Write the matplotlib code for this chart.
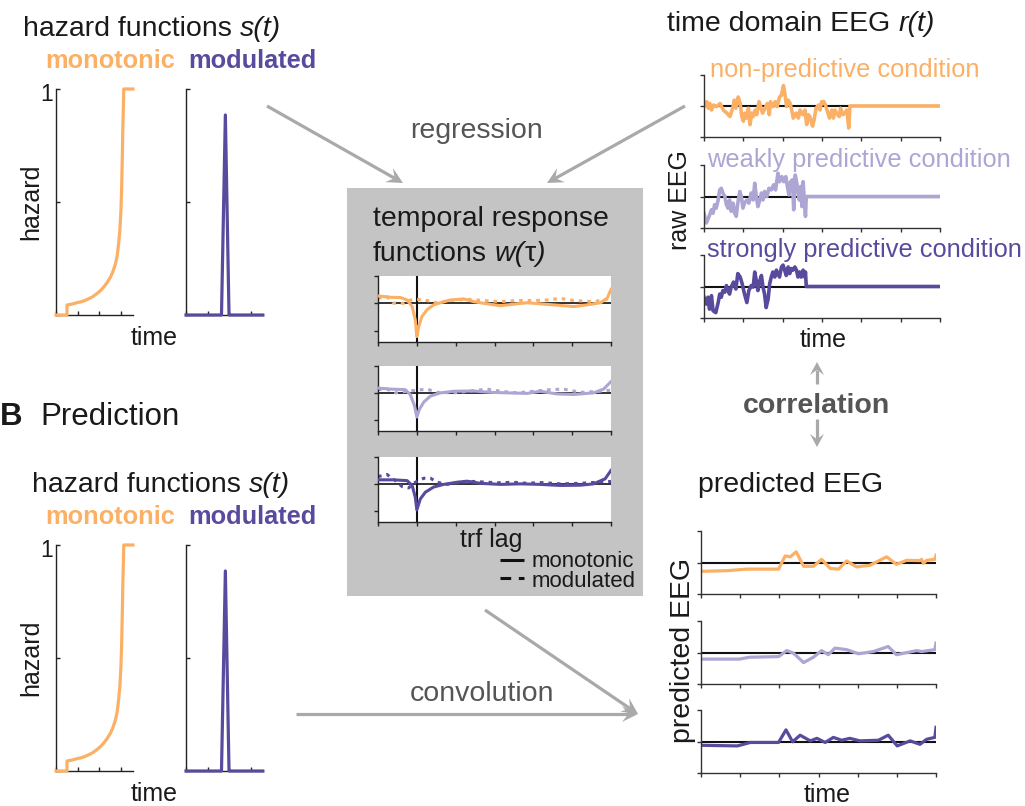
import numpy as np
import matplotlib
matplotlib.use('Agg')
import matplotlib.pyplot as plt
from matplotlib.patches import Rectangle, Polygon

plt.rcParams['font.family'] = ['Liberation Sans', 'DejaVu Sans']

# ---------------- data ----------------
# hazard functions
haz_mono_t = [0, 0.51, 0.51, 0.77, 1.00, 1.23, 1.46, 1.69, 1.92, 2.08, 2.23, 2.38, 2.54, 2.66, 2.77, 2.85,
              2.92, 2.97, 3.02, 3.05, 3.08, 3.11, 3.14, 3.15, 3.58]
haz_mono = [0, 0, 0.044, 0.049, 0.055, 0.060, 0.069, 0.080, 0.096, 0.109, 0.125, 0.144, 0.169, 0.196, 0.228, 0.265,
            0.324, 0.376, 0.465, 0.553, 0.686, 0.833, 0.951, 1.0, 1.0]
haz_mod_t = [0, 1.65, 1.83, 2.0, 3.57]
haz_mod = [0, 0, 0.885, 0, 0]

# temporal response functions (lag, weight)
trf_mono_lag = [[-1.00, -0.68, -0.42, -0.25, -0.12, -0.04, 0.00, 0.05, 0.13, 0.26, 0.43, 0.61, 0.86, 1.21, 1.46, 1.81, 2.15, 2.58, 2.84, 3.18, 3.61, 4.04, 4.38, 4.73, 4.90, 5.00],
                [-1.00, -0.68, -0.30, -0.17, -0.06, 0.00, 0.07, 0.18, 0.35, 0.61, 0.95, 1.46, 1.89, 2.32, 2.84, 3.18, 3.61, 4.04, 4.55, 4.81, 5.00],
                [-1.00, -0.60, -0.25, -0.12, -0.04, 0.00, 0.09, 0.22, 0.43, 0.69, 1.03, 1.29, 1.64, 2.15, 2.67, 3.18, 3.70, 4.21, 4.55, 4.85, 5.00]]
trf_mono = [[0.27, 0.22, 0.21, 0.12, -0.12, -0.61, -1.22, -0.85, -0.49, -0.24, -0.06, 0.02, 0.12, 0.16, 0.06, -0.02, -0.09, -0.02, 0.02, -0.02, -0.07, -0.12, -0.06, 0.02, 0.18, 0.51],
            [0.18, 0.14, 0.12, -0.06, -0.48, -0.90, -0.60, -0.34, -0.12, 0.00, 0.06, 0.07, 0.02, 0.00, -0.02, 0.06, -0.04, -0.06, 0.00, 0.14, 0.42],
            [0.15, 0.15, 0.12, -0.06, -0.50, -0.97, -0.56, -0.31, -0.12, -0.02, 0.06, 0.10, 0.02, -0.02, 0.00, -0.02, -0.06, -0.05, 0.00, 0.19, 0.50]]
trf_mod_lag = [[-1.00, -0.77, -0.60, -0.34, -0.17, 0.00, 0.26, 0.52, 0.86, 1.29, 1.72, 2.15, 2.58, 3.01, 3.35, 3.70, 4.04, 4.55, 4.90, 5.00],
               [-1.00, -0.77, -0.55, -0.30, 0.00, 0.26, 0.52, 0.95, 1.46, 1.81, 2.15, 2.58, 3.01, 3.44, 3.78, 4.21, 4.64, 5.00],
               [-1.00, -0.77, -0.55, -0.38, -0.21, -0.04, 0.18, 0.35, 0.52, 0.78, 1.12, 1.46, 1.81, 2.15, 2.49, 2.84, 3.18, 3.70, 4.21, 4.64, 5.00]]
trf_mod = [[0.18, 0.24, 0.00, 0.00, 0.12, 0.15, 0.10, 0.02, 0.10, 0.15, 0.10, 0.06, 0.10, 0.10, 0.12, 0.18, 0.10, 0.06, 0.15, 0.12],
           [0.12, 0.14, 0.00, 0.05, 0.10, 0.14, 0.02, 0.00, 0.08, 0.14, 0.06, 0.00, 0.06, 0.12, 0.14, 0.02, 0.05, 0.10],
           [0.27, 0.35, 0.12, -0.10, -0.15, 0.06, 0.21, 0.21, 0.06, -0.02, 0.06, 0.09, 0.06, 0.04, 0.06, 0.02, 0.05, 0.00, 0.02, 0.06, 0.09]]

# raw EEG per condition (time, amplitude)
eeg_np_t = [0.00, 0.07, 0.11, 0.15, 0.19, 0.24, 0.32, 0.41, 0.49, 0.58, 0.66, 0.73, 0.77, 0.81, 0.87, 0.92, 0.96, 1.00, 1.04, 1.08,
            1.13, 1.17, 1.21, 1.25, 1.30, 1.34, 1.40, 1.44, 1.49, 1.55, 1.61, 1.66, 1.69, 1.75, 1.81, 1.86, 1.92, 1.97, 2.02, 2.06,
            2.10, 2.14, 2.19, 2.23, 2.27, 2.34, 2.40, 2.44, 2.51, 2.57, 2.61, 2.65, 2.69, 2.76, 2.80, 2.85, 2.91, 2.95, 2.99, 3.05,
            3.10, 3.14, 3.19, 3.25, 3.29, 3.33, 3.37, 3.44, 3.47, 3.53, 3.58, 3.63, 3.68, 3.71, 6.00]
eeg_np = [-0.02, 0.14, -0.07, 0.08, -0.13, 0.03, -0.02, 0.08, -0.13, -0.23, -0.34, -0.07, 0.19, -0.07, 0.29, 0.08, -0.34, -0.49, -0.23, -0.39,
          -0.07, -0.60, -0.23, -0.34, -0.13, -0.28, 0.14, -0.02, -0.23, -0.07, 0.08, -0.28, 0.14, -0.02, 0.14, -0.02, 0.29, 0.35, 0.66, 0.35,
          -0.02, 0.19, 0.08, -0.13, -0.39, -0.23, -0.39, -0.13, -0.28, -0.13, -0.60, -0.28, -0.34, -0.65, -0.44, -0.07, 0.03, -0.13, 0.14, 0.14,
          -0.02, -0.18, -0.39, -0.13, -0.39, -0.13, -0.23, -0.34, -0.07, -0.28, -0.23, -0.13, -0.71, 0.00, 0.00]
eeg_wp_t = [0.00, 0.06, 0.13, 0.19, 0.23, 0.27, 0.31, 0.36, 0.40, 0.44, 0.48, 0.53, 0.57, 0.61, 0.65, 0.69, 0.74, 0.78, 0.82, 0.86,
            0.91, 0.95, 0.99, 1.03, 1.09, 1.14, 1.20, 1.25, 1.29, 1.33, 1.37, 1.42, 1.46, 1.50, 1.54, 1.60, 1.65, 1.71, 1.77, 1.82,
            1.88, 1.92, 1.98, 2.03, 2.08, 2.12, 2.16, 2.20, 2.25, 2.28, 2.32, 2.36, 2.42, 2.46, 2.49, 2.52, 2.55, 2.58, 2.60, 6.00]
eeg_wp = [-0.53, -0.84, -0.63, -0.42, -0.53, -0.26, -0.37, -0.11, 0.21, 0.26, 0.11, 0.00, -0.26, -0.37, -0.11, -0.47, -0.21, -0.53, -0.63, -0.21,
          0.16, 0.00, -0.37, -0.21, -0.11, -0.21, 0.11, -0.11, 0.42, 0.00, -0.32, -0.11, 0.11, -0.11, 0.16, 0.00, 0.26, 0.21, 0.37, 0.21,
          0.74, 0.47, 0.63, 0.47, 0.63, 0.32, 0.05, 0.47, 0.53, -0.42, 0.68, 0.42, -0.11, 0.32, -0.32, 0.47, -0.11, -0.63, 0.00, 0.00]
eeg_sp_t = [0.00, 0.06, 0.10, 0.14, 0.19, 0.23, 0.30, 0.36, 0.40, 0.44, 0.48, 0.53, 0.57, 0.61, 0.65, 0.69, 0.75, 0.81, 0.86, 0.92,
            0.97, 1.03, 1.09, 1.14, 1.20, 1.25, 1.29, 1.33, 1.37, 1.42, 1.46, 1.50, 1.54, 1.58, 1.63, 1.67, 1.71, 1.75, 1.80, 1.84,
            1.88, 1.92, 1.97, 2.01, 2.05, 2.09, 2.14, 2.18, 2.22, 2.26, 2.31, 2.35, 2.39, 2.43, 2.47, 2.52, 2.56, 2.58, 2.60, 6.00]
eeg_sp = [-0.34, -0.56, -0.34, -0.72, -0.29, -0.77, -0.83, -0.51, -0.24, -0.34, -0.13, -0.18, 0.03, -0.13, -0.24, -0.02, 0.14, -0.08, 0.41, 0.30,
          0.09, -0.24, -0.51, -0.13, 0.03, -0.02, 0.46, 0.19, -0.13, 0.19, 0.35, -0.02, -0.24, -0.67, -0.40, 0.09, 0.30, 0.46, 0.30, 0.52,
          0.41, 0.30, 0.62, 0.68, 0.52, 0.35, 0.62, 0.41, 0.57, 0.52, 0.62, 0.52, 0.30, 0.46, 0.30, 0.52, 0.30, 0.46, 0.00, 0.00]

# predicted EEG per condition
pred_np_t = [0.00, 0.66, 1.17, 1.98, 2.15, 2.28, 2.43, 2.62, 2.87, 3.08, 3.30, 3.51, 3.72, 3.97, 4.31, 4.74, 4.99, 5.25, 5.59, 5.63, 5.68, 5.76, 5.97, 6.00]
pred_np = [-0.28, -0.26, -0.21, -0.21, 0.21, 0.18, 0.34, -0.12, -0.12, 0.10, -0.19, -0.21, 0.05, -0.14, -0.09, 0.18, -0.06, 0.07, 0.06, 0.10, -0.03, 0.07, 0.10, 0.23]
pred_wp_t = [0.00, 0.98, 1.24, 1.98, 2.19, 2.36, 2.62, 2.87, 3.08, 3.25, 3.42, 3.72, 4.02, 4.40, 4.78, 4.99, 5.51, 5.63, 5.97, 6.00]
pred_wp = [-0.21, -0.21, -0.15, -0.13, 0.06, -0.02, -0.32, -0.15, 0.06, -0.07, 0.14, 0.09, -0.04, 0.03, 0.19, -0.07, 0.06, 0.03, 0.09, 0.30]
pred_sp_t = [0.00, 0.93, 1.26, 1.98, 2.17, 2.34, 2.53, 2.79, 2.96, 3.17, 3.38, 3.59, 3.80, 4.06, 4.53, 4.78, 5.01, 5.34, 5.59, 5.76, 5.97, 6.00]
pred_sp = [-0.12, -0.14, -0.03, -0.03, 0.37, -0.01, 0.20, 0.02, 0.10, -0.03, 0.13, 0.04, 0.10, 0.02, 0.04, 0.20, -0.14, 0.02, -0.09, 0.07, 0.13, 0.45]

conditions = ['non-predictive condition', 'weakly predictive condition', 'strongly predictive condition']

# ---------------- styling ----------------
ORANGE = '#FBB066'
LPURPLE = '#ADA5D3'
DPURPLE = '#5A4A9E'
COND_COLORS = [ORANGE, LPURPLE, DPURPLE]
ARROW = '#A9A9A9'
GRAYTXT = '#555555'
TXT = '#1a1a1a'
BOX = '#C4C4C4'

W, H = 1025, 806
fig = plt.figure(figsize=(W / 100, H / 100), dpi=100)
renderer = fig.canvas.get_renderer()


def ax_px(l, t, r, b, **kw):
    return fig.add_axes([l / W, 1 - b / H, (r - l) / W, (b - t) / H], **kw)


def txt(x, y, s, **kw):
    kw.setdefault('color', TXT)
    kw.setdefault('va', 'baseline')
    return fig.text(x / W, 1 - y / H, s, **kw)


def width_px(s, fontsize, style='normal'):
    t = fig.text(0, 0, s, fontsize=fontsize, fontstyle=style)
    w = t.get_window_extent(renderer).width
    t.remove()
    return w


def txt_mixed(x, y, parts, fontsize):
    """parts: list of (string, fontstyle); spaces measured explicitly."""
    space = width_px('a a', fontsize) - width_px('aa', fontsize)
    cur = x
    for s, style in parts:
        if s == ' ':
            cur += space
            continue
        t = txt(cur, y, s, fontsize=fontsize, fontstyle=style)
        cur += t.get_window_extent(renderer).width


# background layer (pixel coordinates)
bg = fig.add_axes([0, 0, 1, 1], zorder=-1)
bg.set_xlim(0, W)
bg.set_ylim(H, 0)
bg.axis('off')
bg.add_patch(Rectangle((347, 188), 643 - 347, 596 - 188, color=BOX, lw=0))


def arrow(x0, y0, x1, y1, L=16, w=8, lw=2.3):
    dx, dy = x1 - x0, y1 - y0
    d = np.hypot(dx, dy)
    ux, uy = dx / d, dy / d
    nx, ny = -uy, ux
    bx, by = x1 - 0.6 * L * ux, y1 - 0.6 * L * uy
    bg.plot([x0, bx], [y0, by], color=ARROW, lw=lw, solid_capstyle='butt')
    poly = [(x1, y1), (x1 - L * ux + w * nx, y1 - L * uy + w * ny), (bx, by),
            (x1 - L * ux - w * nx, y1 - L * uy - w * ny)]
    bg.add_patch(Polygon(poly, closed=True, color=ARROW, lw=0))


arrow(267, 106, 403, 183)
arrow(685, 106, 547, 183)
arrow(485, 610, 638, 714)
arrow(296, 714, 638, 714)
arrow(817, 384, 817, 362, L=13, w=7)
arrow(817, 419, 817, 447, L=13, w=7)


# ---------------- hazard panels ----------------
def hazard_panel(box, t, h, color):
    ax = ax_px(*box)
    ax.set_facecolor('none')
    ax.plot(t, h, color=color, lw=2.3, clip_on=False, zorder=3, solid_joinstyle='round')
    ax.set_xlim(0, 3.58)
    ax.set_ylim(0, 1)
    ax.set_xticks([0, 1, 2, 3])
    ax.set_yticks([0, 0.5, 1])
    ax.set_xticklabels([])
    ax.set_yticklabels([])
    ax.tick_params(direction='in', length=3, width=1, color='#222')
    for s in ['top', 'right']:
        ax.spines[s].set_visible(False)
    for s in ['left', 'bottom']:
        ax.spines[s].set_linewidth(1)
        ax.spines[s].set_color('#222')
    return ax


for top in [89, 545]:
    bot = top + 226
    hazard_panel((56, top, 133, bot), haz_mono_t, haz_mono, ORANGE)
    hazard_panel((186, top, 263, bot), haz_mod_t, haz_mod, DPURPLE)
    txt(53, top + 12, '1', ha='right', fontsize=16.5)
    txt(31, (top + bot) / 2, 'hazard', rotation=90, ha='center', va='center', fontsize=18)
    txt(154, bot + 30, 'time', ha='center', fontsize=18)
    txt(45, top - 21, 'monotonic', color=ORANGE, fontweight='bold', fontsize=18.3)
    txt(188, top - 21, 'modulated', color=DPURPLE, fontweight='bold', fontsize=18.3)

haz_title = [('hazard functions', 'normal'), (' ', None), ('s(t)', 'italic')]
txt_mixed(23, 36, haz_title, 20.5)
txt_mixed(32, 492, haz_title, 20.5)
txt(0, 425, 'B', fontweight='bold', fontsize=22.5)
txt(40, 425, 'Prediction', fontsize=22.5)

# ---------------- TRF panels ----------------
txt(373, 226, 'temporal response', fontsize=20.5)
txt_mixed(373, 261, [('functions', 'normal'), (' ', None), ('w(', 'italic'), ('τ', 'normal'), (')', 'italic')], 20.5)
trf_boxes = [(276, 342), (366, 431), (457, 522)]
for i, (t, b) in enumerate(trf_boxes):
    ax = ax_px(378, t, 611, b)
    ax.set_facecolor('white')
    ax.axhline(0, color='#111', lw=1.2, zorder=1)
    ax.axvline(0, color='#111', lw=1.5, zorder=1)
    ax.plot(trf_mod_lag[i], trf_mod[i], color=COND_COLORS[i], lw=2.2,
            dashes=(1.2, 1.6), dash_capstyle='butt', zorder=2)
    ax.plot(trf_mono_lag[i], trf_mono[i], color=COND_COLORS[i], lw=2.2, zorder=3,
            solid_joinstyle='round')
    ax.set_xlim(-1, 5)
    ax.set_ylim(-1.42, 1)
    ax.set_xticks(range(-1, 6))
    ax.set_yticks([-1, 0, 1])
    ax.set_xticklabels([])
    ax.set_yticklabels([])
    ax.tick_params(direction='out', length=3, width=1, color='#222')
    for s in ['top', 'right']:
        ax.spines[s].set_visible(False)
    for s in ['left', 'bottom']:
        ax.spines[s].set_linewidth(1)
        ax.spines[s].set_color('#222')

txt(491, 547, 'trf lag', ha='center', fontsize=18)
bg.plot([500, 524], [560, 560], color='#111', lw=2.2, solid_capstyle='butt')
bg.plot([500, 524], [578, 578], color='#111', lw=2.2, dashes=(3.5, 2.5), dash_capstyle='butt')
txt(532, 567, 'monotonic', fontsize=16)
txt(532, 587, 'modulated', fontsize=16)

# ---------------- raw EEG panels ----------------
txt_mixed(667, 31, [('time domain EEG', 'normal'), (' ', None), ('r(t)', 'italic')], 20.5)
eeg_t = [eeg_np_t, eeg_wp_t, eeg_sp_t]
eeg_v = [eeg_np, eeg_wp, eeg_sp]
eeg_boxes = [(75, 137), (165, 228), (255, 318)]
label_pos = [(710, 77), (707, 167), (707, 257)]


def eeg_axes(ax, xs, ys, color, lw):
    ax.set_facecolor('none')
    ax.axhline(0, color='#111', lw=1.5, zorder=1)
    ax.plot(xs, ys, color=color, lw=lw, zorder=2, solid_joinstyle='round')
    ax.set_xlim(0, 6)
    ax.set_ylim(-1, 1)
    ax.set_xticks(range(0, 7))
    ax.set_yticks([-1, 0, 1])
    ax.set_xticklabels([])
    ax.set_yticklabels([])
    ax.tick_params(direction='out', length=3, width=1, color='#333')
    for s in ['top', 'right']:
        ax.spines[s].set_visible(False)
    for s in ['left', 'bottom']:
        ax.spines[s].set_linewidth(1)
        ax.spines[s].set_color('#333')


for i, (t, b) in enumerate(eeg_boxes):
    ax = ax_px(704, t, 940, b)
    eeg_axes(ax, eeg_t[i], eeg_v[i], COND_COLORS[i], 2.6)
    txt(label_pos[i][0], label_pos[i][1], conditions[i], color=COND_COLORS[i], fontsize=18.3)

txt(680, 200, 'raw EEG', rotation=90, ha='center', va='center', fontsize=18)
txt(823, 347, 'time', ha='center', fontsize=18)

# process labels
txt(743, 413, 'correlation', color=GRAYTXT, fontweight='bold', fontsize=20.5)
txt(410, 138, 'regression', color=GRAYTXT, fontsize=20.5)
txt(410, 701, 'convolution', color=GRAYTXT, fontsize=20.5)

# ---------------- predicted EEG panels ----------------
txt(698, 492, 'predicted EEG', fontsize=20.5)
pred_t = [pred_np_t, pred_wp_t, pred_sp_t]
pred_v = [pred_np, pred_wp, pred_sp]
pred_boxes = [(531, 594), (621, 684), (710, 773)]
for i, (t, b) in enumerate(pred_boxes):
    ax = ax_px(701, t, 936, b)
    eeg_axes(ax, pred_t[i], pred_v[i], COND_COLORS[i], 2.3)

txt(683, 650, 'predicted EEG', rotation=90, ha='center', va='center', fontsize=20.5)
txt(827, 802, 'time', ha='center', fontsize=18)

fig.savefig('out.png', dpi=100)
